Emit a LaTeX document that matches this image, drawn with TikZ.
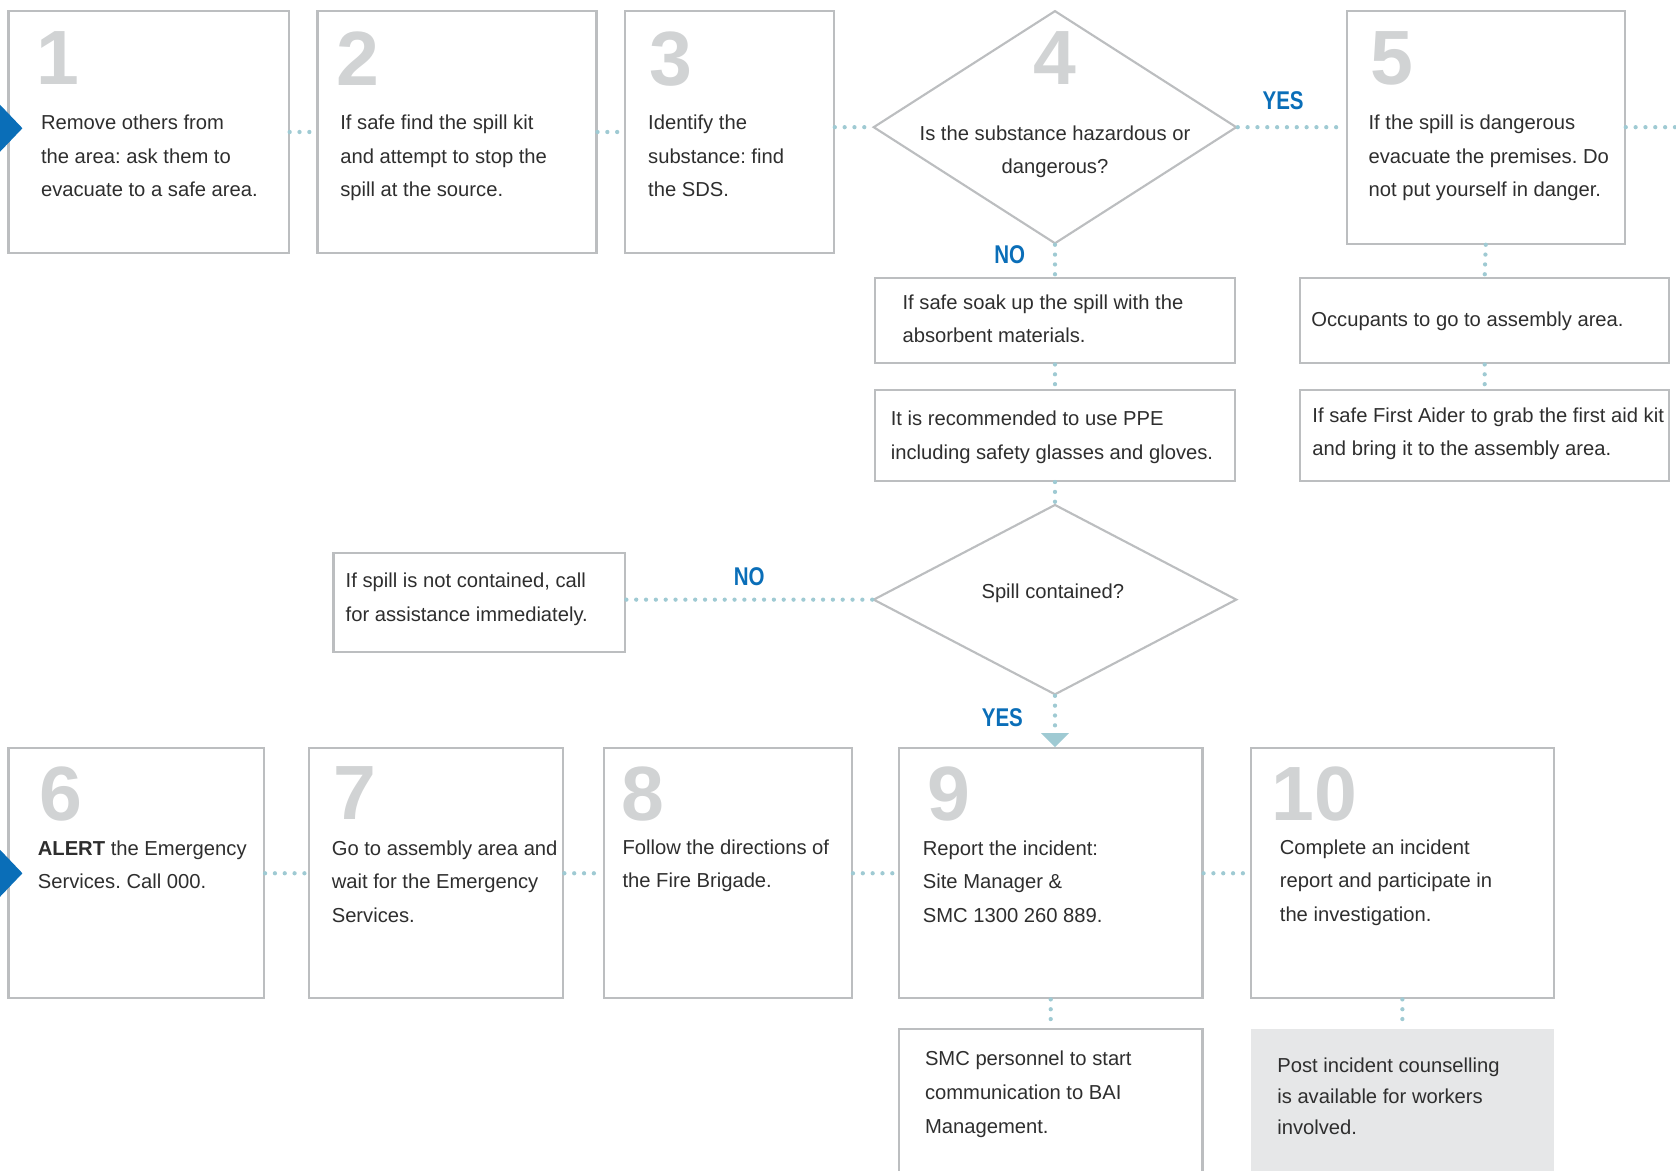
\documentclass[tikz,border=0pt]{standalone}
\usepackage{fontspec}
\setmainfont{Liberation Sans}
\newfontfamily\lblfont[FakeStretch=0.8]{Liberation Sans}
\usepackage{tikz}
\usetikzlibrary{positioning,arrows.meta,shapes.geometric}
\frenchspacing
\definecolor{boxgray}{HTML}{BCBEC0}
\definecolor{numgray}{HTML}{D1D3D4}
\definecolor{txtgray}{HTML}{2E2E2E}
\definecolor{dotteal}{HTML}{9FCAD3}
\definecolor{yesblue}{HTML}{0A6EB8}
\definecolor{notefill}{HTML}{E6E7E8}
\tikzset{
  stepbox/.style ={draw=boxgray, line width=1pt, rectangle, inner sep=0pt},
  decide/.style  ={draw=boxgray, line width=1pt, diamond, inner sep=0pt},
  note/.style    ={fill=notefill, rectangle, inner sep=0pt},
  num/.style     ={anchor=north west, inner sep=0pt, text=numgray, font=\fontsize{36}{36}\selectfont\bfseries},
  txt/.style     ={anchor=north west, inner sep=0pt, align=left, text=txtgray, font=\fontsize{9.45}{15.75}\selectfont},
  lbl/.style     ={inner sep=0pt, text=yesblue, font=\lblfont\fontsize{12}{12}\selectfont\bfseries},
  link/.style    ={dotteal, line width=2pt, line cap=round, dash pattern=on 0pt off 4.6pt},
  arr/.style     ={link, -{Triangle[length=6.5pt, width=13pt, line width=0pt, fill=dotteal]}},
}

\begin{document}
\begin{tikzpicture}[x=0.5pt, y=-0.5pt]
  \useasboundingbox (0,0) rectangle (1568,1095);

  % Top row: steps 1 to 5
  \node[stepbox, minimum width=131pt, minimum height=113.5pt] (s1) at (139,123.5) {};
  \node[stepbox, minimum width=130.5pt, minimum height=113.5pt] (s2) at (427.5,123.5) {};
  \node[stepbox, minimum width=97.5pt, minimum height=113.5pt] (s3) at (682.5,123.5) {};
  \node[decide, minimum width=170pt, minimum height=109pt] (q4) at (987,119) {};
  \node[stepbox, minimum width=130pt, minimum height=109pt] (s5) at (1390,119) {};

  \node[num] (n1) at ([shift={(27,20)}]s1.north west) {1};
  \node[num] (n2) at ([shift={(18,20)}]s2.north west) {2};
  \node[num] (n3) at ([shift={(23,20)}]s3.north west) {3};
  \node[num, anchor=north] (n4) at ([yshift=-10pt]q4.north) {4};
  \node[num] (n5) at ([shift={(23,20)}]s5.north west) {5};

  \node[txt] (t1) at ([shift={(31,98)}]s1.north west) {Remove others from\\the area: ask them to\\evacuate to a safe area.};
  \node[txt] (t2) at ([shift={(22,98)}]s2.north west) {If safe find the spill kit\\and attempt to stop the\\spill at the source.};
  \node[txt] (t3) at ([shift={(22,98)}]s3.north west) {Identify the\\substance: find\\the SDS.};
  \node[txt, anchor=north, align=center] (t4) at (987,117) {Is the substance hazardous or\\dangerous?};
  \node[txt] (t5) at ([shift={(21,98)}]s5.north west) {If the spill is dangerous\\evacuate the premises. Do\\not put yourself in danger.};

  % NO branch under step 4
  \node[stepbox, minimum width=168pt, minimum height=40pt] (soak) at (987,300) {};
  \node[txt] at ([shift={(26,16)}]soak.north west) {If safe soak up the spill with the\\absorbent materials.};
  \node[stepbox, minimum width=168pt, minimum height=42.5pt] (ppe) at (987,407.5) {};
  \node[txt] at ([shift={(15,20)}]ppe.north west) {It is recommended to use PPE\\including safety glasses and gloves.};
  \node[decide, minimum width=170pt, minimum height=89pt] (q8) at (987,561) {};
  \node[txt, anchor=center] at (985,555) {Spill contained?};
  \node[stepbox, minimum width=136.5pt, minimum height=46.5pt] (nc) at (448.5,563.5) {};
  \node[txt] at ([shift={(12,20)}]nc.north west) {If spill is not contained, call\\for assistance immediately.};

  % YES branch under step 5
  \node[stepbox, minimum width=172.5pt, minimum height=40pt] (occ) at (1389,300) {};
  \node[txt] at ([shift={(11,32)}]occ.north west) {Occupants to go to assembly area.};
  \node[stepbox, minimum width=172.5pt, minimum height=42.5pt] (fa) at (1389,407.5) {};
  \node[txt] at ([shift={(12,17)}]fa.north west) {If safe First Aider to grab the first aid kit\\and bring it to the assembly area.};

  % Bottom row: steps 6 to 10
  \node[stepbox, minimum width=119.5pt, minimum height=117pt] (s6) at (127.5,817) {};
  \node[stepbox, minimum width=119pt, minimum height=117pt] (s7) at (408,817) {};
  \node[stepbox, minimum width=116pt, minimum height=117pt] (s8) at (681,817) {};
  \node[stepbox, minimum width=142pt, minimum height=117pt] (s9) at (983,817) {};
  \node[stepbox, minimum width=142pt, minimum height=117pt] (s10) at (1312,817) {};

  \node[num] (n6) at ([shift={(30,18)}]s6.north west) {6};
  \node[num] (n7) at ([shift={(24,18)}]s7.north west) {7};
  \node[num] (n8) at ([shift={(17,18)}]s8.north west) {8};
  \node[num] (n9) at ([shift={(27,18)}]s9.north west) {9};
  \node[num] (n10) at ([shift={(20,18)}]s10.north west) {10};

  \node[txt] (t6) at ([shift={(28,87)}]s6.north west) {\textbf{ALERT} the Emergency\\Services. Call 000.};
  \node[txt] (t7) at ([shift={(22,87)}]s7.north west) {Go to assembly area and\\wait for the Emergency\\Services.};
  \node[txt] (t8) at ([shift={(18,86)}]s8.north west) {Follow the directions of\\the Fire Brigade.};
  \node[txt] (t9) at ([shift={(23,87)}]s9.north west) {Report the incident:\\Site Manager \&\\SMC 1300 260 889.};
  \node[txt] (t10) at ([shift={(28,86)}]s10.north west) {Complete an incident\\report and participate in\\the investigation.};

  % follow-up boxes (run off the page)
  \node[stepbox, minimum width=142pt, minimum height=75pt] (sub9) at (983,1038) {};
  \node[txt] at ([shift={(25,21)}]sub9.north west) {SMC personnel to start\\communication to BAI\\Management.};
  \node[note, minimum width=142pt, minimum height=75pt] (sub10) at (1312,1038) {};
  \node[txt, font=\fontsize{9.45}{14.5}\selectfont] at ([shift={(25,27)}]sub10.north west) {Post incident counselling\\is available for workers\\involved.};

  % entry markers
  \fill[yesblue] (0,98) -- (21,120) -- (0,142) -- cycle;
  \fill[yesblue] (0,795) -- (21,817) -- (0,839) -- cycle;

  % Dotted links, top row
  \draw[link] (s1.east) -- (s2.west);
  \draw[link] (s2.east) -- (s3.west);
  \draw[link] (s3.east |- q4.west) -- (q4.west);
  \draw[link] (q4.east) -- (s5.west) node[lbl, pos=0.42, above=7pt] {YES};
  \coordinate (exit5) at (1568,119);
  \draw[link] (s5.east) -- (exit5);

  % Down the NO side
  \draw[link] (q4.south) -- (soak.north) node[lbl, pos=0.3, left=13pt] {NO};
  \draw[link] (soak.south) -- (ppe.north);
  \draw[link] (ppe.south) -- (q8.north);
  \draw[link] (q8.west) -- (q8.west -| nc.east) node[lbl, midway, above=5.5pt] {NO};
  \draw[arr] (q8.south) -- (q8.south |- s9.north) node[lbl, pos=0.42, left=14pt] {YES};

  % Down the YES side
  \draw[link] (s5.south) -- (occ.north);
  \draw[link] (occ.south) -- (fa.north);

  % Dotted links, bottom row
  \draw[link] (s6.east) -- (s7.west);
  \draw[link] (s7.east) -- (s8.west);
  \draw[link] (s8.east) -- (s9.west);
  \draw[link] (s9.east) -- (s10.west);
  \draw[link] (s9.south) -- (sub9.north);
  \draw[link] (s10.south) -- (sub10.north);
\end{tikzpicture}
\end{document}
